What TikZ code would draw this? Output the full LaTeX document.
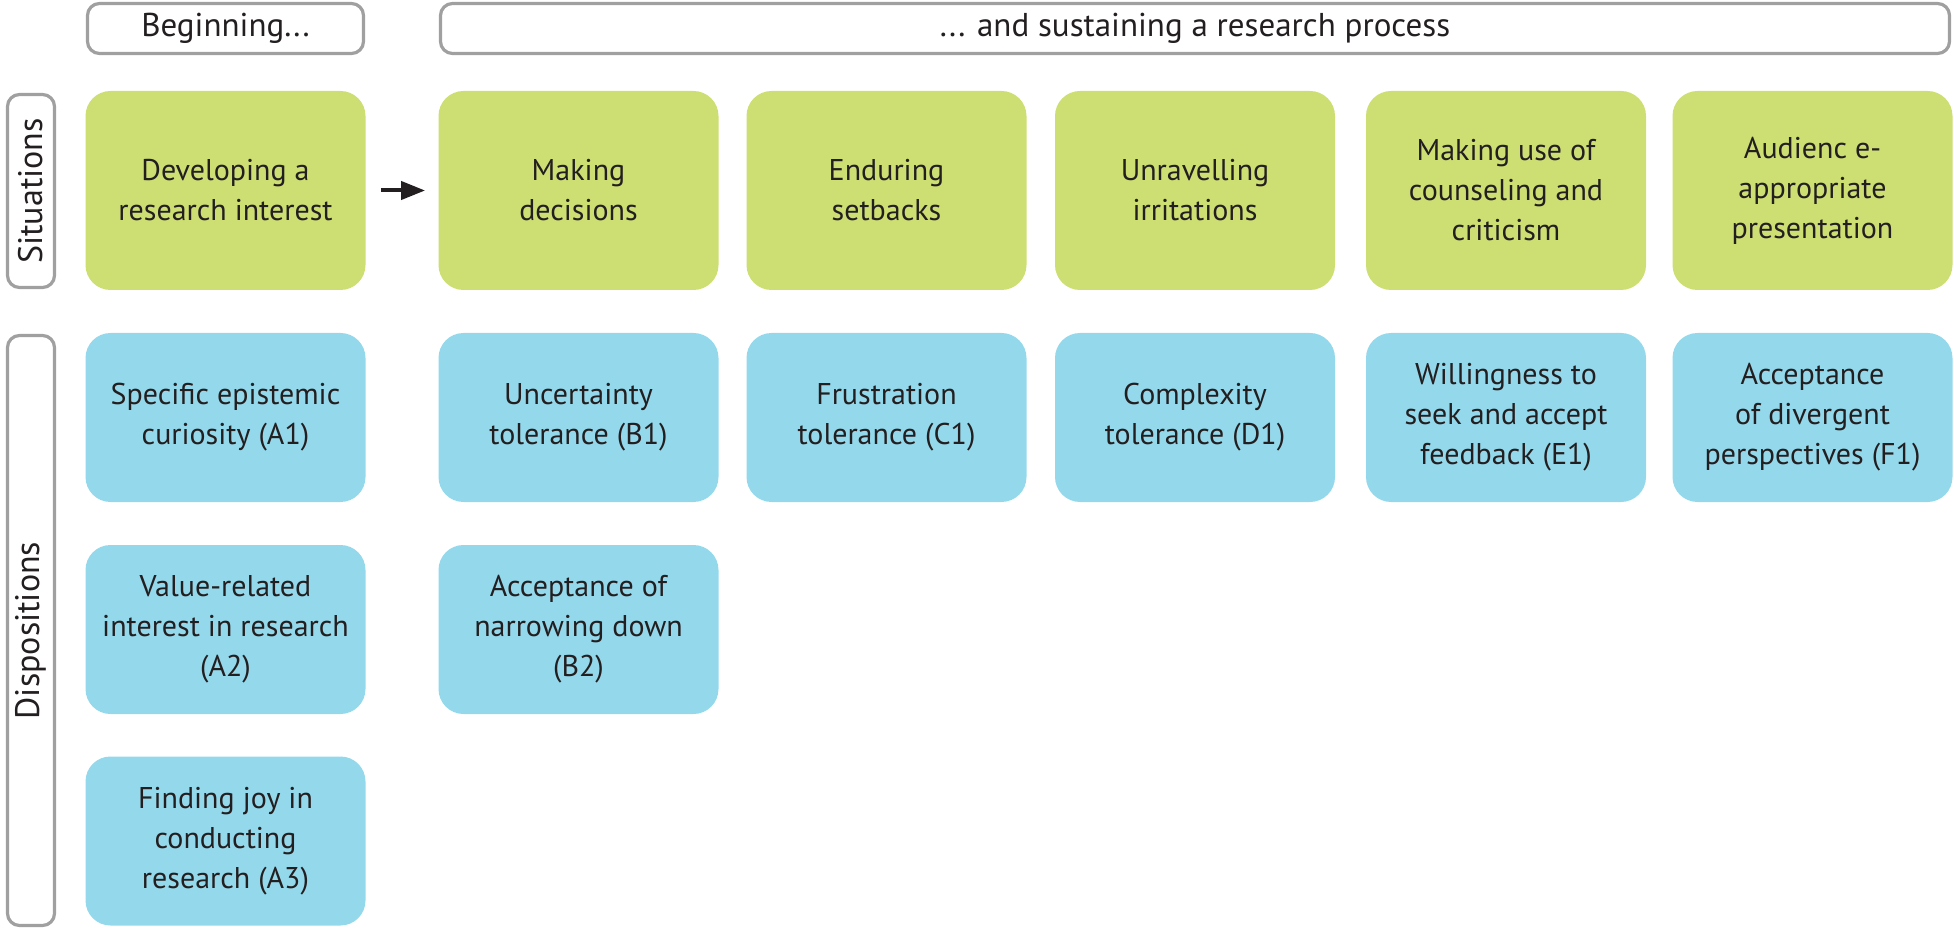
\documentclass[tikz,border=0pt]{standalone}
\usepackage{fontspec}
\setmainfont{PT Sans}
\usetikzlibrary{arrows.meta}
\definecolor{sitgreen}{RGB}{205,222,114}
\definecolor{dispblue}{RGB}{148,216,235}
\definecolor{framegray}{RGB}{160,160,160}
\definecolor{txt}{RGB}{35,31,32}
\begin{document}
\begin{tikzpicture}[x=0.5pt,y=-0.5pt,
  every node/.style={font=\fontsize{15}{20}\selectfont, text=txt, align=center, inner sep=0pt},
  sit/.style={fill=sitgreen, rounded corners=12.5pt, minimum width=140pt, minimum height=99.5pt},
  disp/.style={fill=dispblue, rounded corners=12.5pt, minimum width=140pt, minimum height=84.5pt},
  hdr/.style={draw=framegray, line width=1.6pt, rounded corners=6pt, fill=white, minimum height=25pt, font=\fontsize{16.5}{20}\selectfont},
  lbl/.style={draw=framegray, line width=1.6pt, rounded corners=6pt, fill=white, minimum height=23.5pt, rotate=90, font=\fontsize{17}{20}\selectfont},
  arr/.style={draw=txt, line width=2pt, -{Triangle[length=12pt,width=9pt]}}
]
\useasboundingbox (0,0) rectangle (1954,930);
% headers
\node[hdr, minimum width=138pt] (hbeg) at (225.5,28.5) {Beginning...};
\node[hdr, minimum width=754.5pt] (hsus) at (1195,28.5) {... and sustaining a research process};
% side labels
\node[lbl, minimum width=96.5pt] (lsit) at (31,191) {Situations};
\node[lbl, minimum width=295pt] (ldisp) at (31,630.5) {Dispositions};
% situations
\node[sit] (sA) at (225.5,190.5) {Developing a\\research interest};
\node[sit] (sB) at (578.5,190.5) {Making\\decisions};
\node[sit] (sC) at (886.5,190.5) {Enduring\\setbacks};
\node[sit] (sD) at (1195,190.5) {Unravelling\\irritations};
\node[sit] (sE) at (1506,190.5) {Making use of\\counseling and\\criticism};
\node[sit] (sF) at (1812.5,190.5) {Audienc e-\\appropriate\\presentation};
% dispositions
\node[disp] (dA1) at (225.5,417.5) {Specific epistemic\\curiosity (A1)};
\node[disp] (dA2) at (225.5,629.5) {Value-related\\interest in research\\(A2)};
\node[disp] (dA3) at (225.5,841) {Finding joy in\\conducting\\research (A3)};
\node[disp] (dB1) at (578.5,417.5) {Uncertainty\\tolerance (B1)};
\node[disp] (dB2) at (578.5,629.5) {Acceptance of\\narrowing down\\(B2)};
\node[disp] (dC1) at (886.5,417.5) {Frustration\\tolerance (C1)};
\node[disp] (dD1) at (1195,417.5) {Complexity\\tolerance (D1)};
\node[disp] (dE1) at (1506,417.5) {Willingness to\\seek and accept\\feedback (E1)};
\node[disp] (dF1) at (1812.5,417.5) {Acceptance\\of divergent\\perspectives (F1)};
% arrow
\draw[arr, shorten <=7.5pt, shorten >=6.5pt] (sA.east) -- (sB.west);
\end{tikzpicture}
\end{document}
